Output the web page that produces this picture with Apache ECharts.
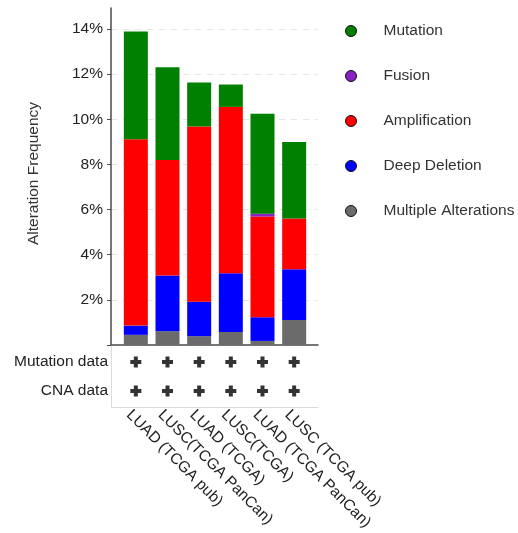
<!DOCTYPE html>
<html><head><meta charset="utf-8">
<script src="https://cdn.jsdelivr.net/npm/echarts@6/dist/echarts.min.js"></script>
<style>html,body{margin:0;padding:0;background:#fff}#c{width:518px;height:533px}</style>
</head><body><div id="c"></div>
<script>
const categories = ['LUAD (TCGA pub)', 'LUSC(TCGA PanCan)', 'LUAD (TCGA)', 'LUSC(TCGA)', 'LUAD (TCGA PanCan)', 'LUSC (TCGA pub)'];
const multipleAlterations = [0.45, 0.61, 0.39, 0.58, 0.18, 1.11];
const deepDeletion = [0.41, 2.47, 1.53, 2.60, 1.05, 2.25];
const amplification = [8.26, 5.12, 7.76, 7.37, 4.46, 2.24];
const fusion = [0, 0, 0, 0, 0.13, 0];
const mutation = [4.77, 4.11, 1.95, 0.99, 4.42, 3.39];
const legendNames = ['Mutation', 'Fusion', 'Amplification', 'Deep Deletion', 'Multiple Alterations'];
const profileRows = ['Mutation data', 'CNA data'];
const mutationProfiled = [true, true, true, true, true, true];
const cnaProfiled = [true, true, true, true, true, true];

const FONT = '"Liberation Sans", Arial, Helvetica, sans-serif';
const FS = 15.5;
const AX = '#4a4a4a';
const PLUS = 'path://M3.5,0h4v3.5h3.5v4h-3.5v3.5h-4v-3.5h-3.5v-4h3.5z';

const plusData = [];
categories.forEach((c, i) => {
  if (mutationProfiled[i]) plusData.push([c, profileRows[0]]);
  if (cnaProfiled[i]) plusData.push([c, profileRows[1]]);
});

const hidden = { axisLine: { show: false }, axisTick: { show: false }, axisLabel: { show: false }, splitLine: { show: false } };

const chart = echarts.init(document.getElementById('c'), null, { renderer: 'canvas' });
chart.setOption({
  animation: false,
  backgroundColor: '#fff',
  textStyle: { fontFamily: FONT },
  grid: [
    { left: 111, width: 207, top: 8, height: 337 },    // frame main
    { left: 120, width: 190, top: 29, height: 316 },   // bars
    { left: 111, width: 207, top: 29, height: 316 },   // ticks & gridlines
    { left: 111, width: 207, top: 345, height: 62 },   // lower frame
    { left: 120, width: 190, top: 347.5, height: 58 }, // lower data
    { left: 113, width: 190, top: 347.5, height: 58.5 }  // category labels
  ],
  xAxis: [
    Object.assign({}, hidden, { gridIndex: 0, type: 'value', min: 0, max: 1, axisLine: { show: true, lineStyle: { color: AX, width: 1.5 } } }),
    Object.assign({}, hidden, { gridIndex: 1, type: 'category', data: categories }),
    Object.assign({}, hidden, { gridIndex: 2, type: 'value', min: 0, max: 1 }),
    Object.assign({}, hidden, { gridIndex: 3, type: 'value', min: 0, max: 1, axisLine: { show: true, lineStyle: { color: '#dcdcdc', width: 1 } } }),
    Object.assign({}, hidden, { gridIndex: 4, type: 'category', data: categories }),
    Object.assign({}, hidden, { gridIndex: 5, type: 'category', data: categories,
      axisLabel: { show: true, rotate: -45, interval: 0, margin: 11, fontSize: FS, color: '#222', fontFamily: FONT } })
  ],
  yAxis: [
    Object.assign({}, hidden, { gridIndex: 0, type: 'value', min: 0, max: 1,
      axisLine: { show: true, lineStyle: { color: AX, width: 1.5 } },
      name: 'Alteration Frequency', nameLocation: 'middle', nameGap: 69, nameRotate: 90,
      nameTextStyle: { fontSize: FS, color: '#333', fontFamily: FONT, padding: [0, 0, 0, 6] } }),
    Object.assign({}, hidden, { gridIndex: 1, type: 'value', min: 0, max: 14 }),
    { gridIndex: 2, type: 'value', min: 0, max: 14, interval: 2,
      axisLine: { show: false },
      axisTick: { show: true, length: 4, lineStyle: { color: AX } },
      axisLabel: { margin: 8, fontSize: FS, color: '#222', fontFamily: FONT, formatter: v => v === 0 ? '' : v + '%' },
      splitLine: { show: true, showMinLine: false, lineStyle: { color: '#e6e6e6', type: [6, 6], width: 1 } } },
    Object.assign({}, hidden, { gridIndex: 3, type: 'value', min: 0, max: 1, axisLine: { show: true, lineStyle: { color: '#dcdcdc', width: 1 } } }),
    Object.assign({}, hidden, { gridIndex: 4, type: 'category', data: profileRows, inverse: true, offset: 9,
      axisLabel: { show: true, margin: 3, fontSize: FS, color: '#222', fontFamily: FONT } }),
    Object.assign({}, hidden, { gridIndex: 5, type: 'value', min: 0, max: 1 })
  ],
  legend: {
    data: legendNames, orient: 'vertical', left: 340, top: 18,
    icon: 'circle', itemWidth: 55, itemHeight: 11, itemGap: 29,
    textStyle: { fontSize: FS, color: '#333', fontFamily: FONT },
    itemStyle: { borderColor: '#111', borderWidth: 1 },
    selectedMode: false
  },
  series: [
    { name: 'Multiple Alterations', type: 'bar', stack: 'a', xAxisIndex: 1, yAxisIndex: 1, barWidth: 24, data: multipleAlterations, itemStyle: { color: '#6b6b6b' } },
    { name: 'Deep Deletion', type: 'bar', stack: 'a', xAxisIndex: 1, yAxisIndex: 1, barWidth: 24, data: deepDeletion, itemStyle: { color: '#0000ff' } },
    { name: 'Amplification', type: 'bar', stack: 'a', xAxisIndex: 1, yAxisIndex: 1, barWidth: 24, data: amplification, itemStyle: { color: '#ff0000' } },
    { name: 'Fusion', type: 'bar', stack: 'a', xAxisIndex: 1, yAxisIndex: 1, barWidth: 24, data: fusion, itemStyle: { color: '#8b1fc6' } },
    { name: 'Mutation', type: 'bar', stack: 'a', xAxisIndex: 1, yAxisIndex: 1, barWidth: 24, data: mutation, itemStyle: { color: '#008000' } },
    { name: 'profiled', type: 'scatter', xAxisIndex: 4, yAxisIndex: 4, symbol: PLUS, symbolSize: 11, data: plusData, itemStyle: { color: '#000' }, silent: true }
  ]
});
</script>
</body></html>
